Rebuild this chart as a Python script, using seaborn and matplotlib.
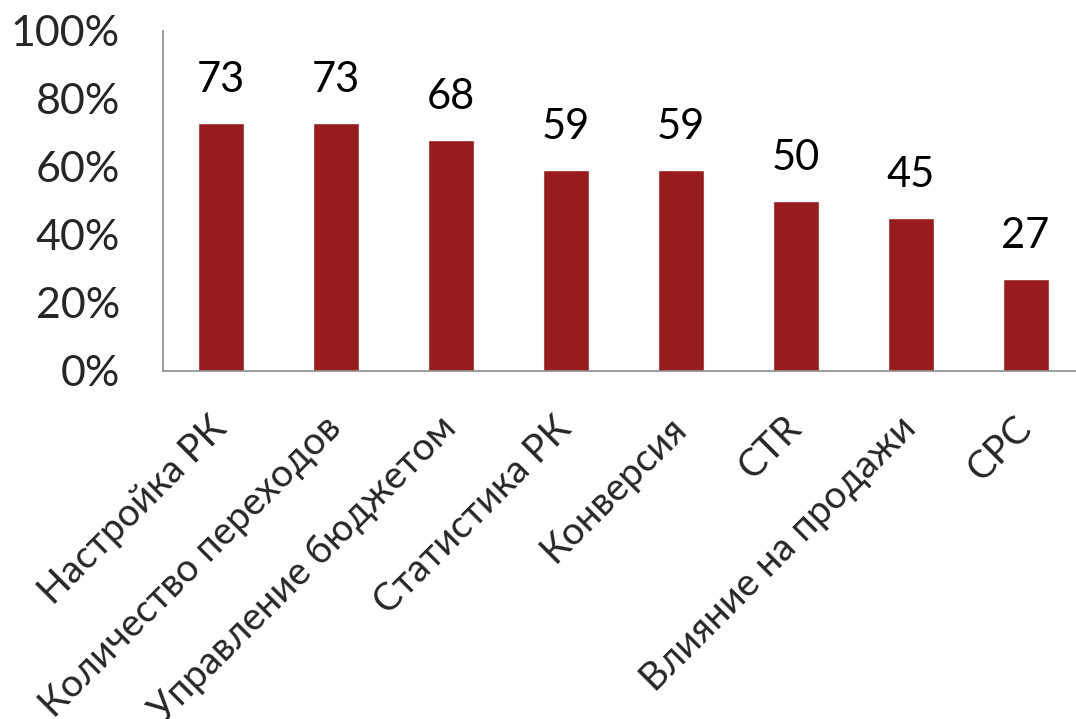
import matplotlib
matplotlib.use("Agg")
import matplotlib.pyplot as plt
import seaborn as sns
import pandas as pd
from matplotlib.ticker import FuncFormatter, FixedLocator

categories = ["Настройка РК", "Количество переходов", "Управление бюджетом",
              "Статистика РК", "Конверсия", "CTR", "Влияние на продажи", "CPC"]
values = [73, 73, 68, 59, 59, 50, 45, 27]
y_ticks = [0, 20, 40, 60, 80, 100]

sns.set_style("white")
plt.rcParams["font.family"] = ["Lato", "DejaVu Sans"]

df = pd.DataFrame({"category": categories, "value": values})

fig = plt.figure(figsize=(10.76, 7.19), dpi=100)
ax = fig.add_axes([163 / 1076, 1 - 371 / 719, 920 / 1076, 340 / 719])

sns.barplot(data=df, x="category", y="value", color="#981B1E", width=0.4,
            saturation=1, ax=ax)

ax.set_ylim(0, 100)
ax.set_xlim(-0.5, len(categories) - 0.5)
ax.set_yticks(y_ticks)
ax.yaxis.set_major_formatter(FuncFormatter(lambda v, p: f"{v:.0f}%"))
ax.set_xlabel("")
ax.set_ylabel("")

# category separators as ticks, labels centred under bars
ax.xaxis.set_major_locator(FixedLocator([i - 0.5 for i in range(len(categories) + 1)]))
ax.xaxis.set_major_formatter(FuncFormatter(lambda v, p: ""))
ax.xaxis.set_minor_locator(FixedLocator(list(range(len(categories)))))
ax.set_xticklabels(categories, minor=True, rotation=45, ha="right",
                   rotation_mode="anchor", fontsize=27.5, va="center")
ax.tick_params(axis="x", which="minor", length=0, pad=37)
ax.tick_params(axis="x", which="major", length=12, width=1.2, color="#8c8c8c")
ax.tick_params(axis="y", length=15, width=1.2, color="#8c8c8c", labelsize=31, pad=16)

for s in ["top", "right"]:
    ax.spines[s].set_visible(False)
for s in ["left", "bottom"]:
    ax.spines[s].set_color("#8c8c8c")
    ax.spines[s].set_linewidth(1.2)

for i, v in enumerate(values):
    ax.annotate(f"{v}", xy=(i, v), xytext=(0, 31), textcoords="offset points",
                ha="center", va="center", fontsize=30, color="black")

fig.savefig("out.png", dpi=100)
